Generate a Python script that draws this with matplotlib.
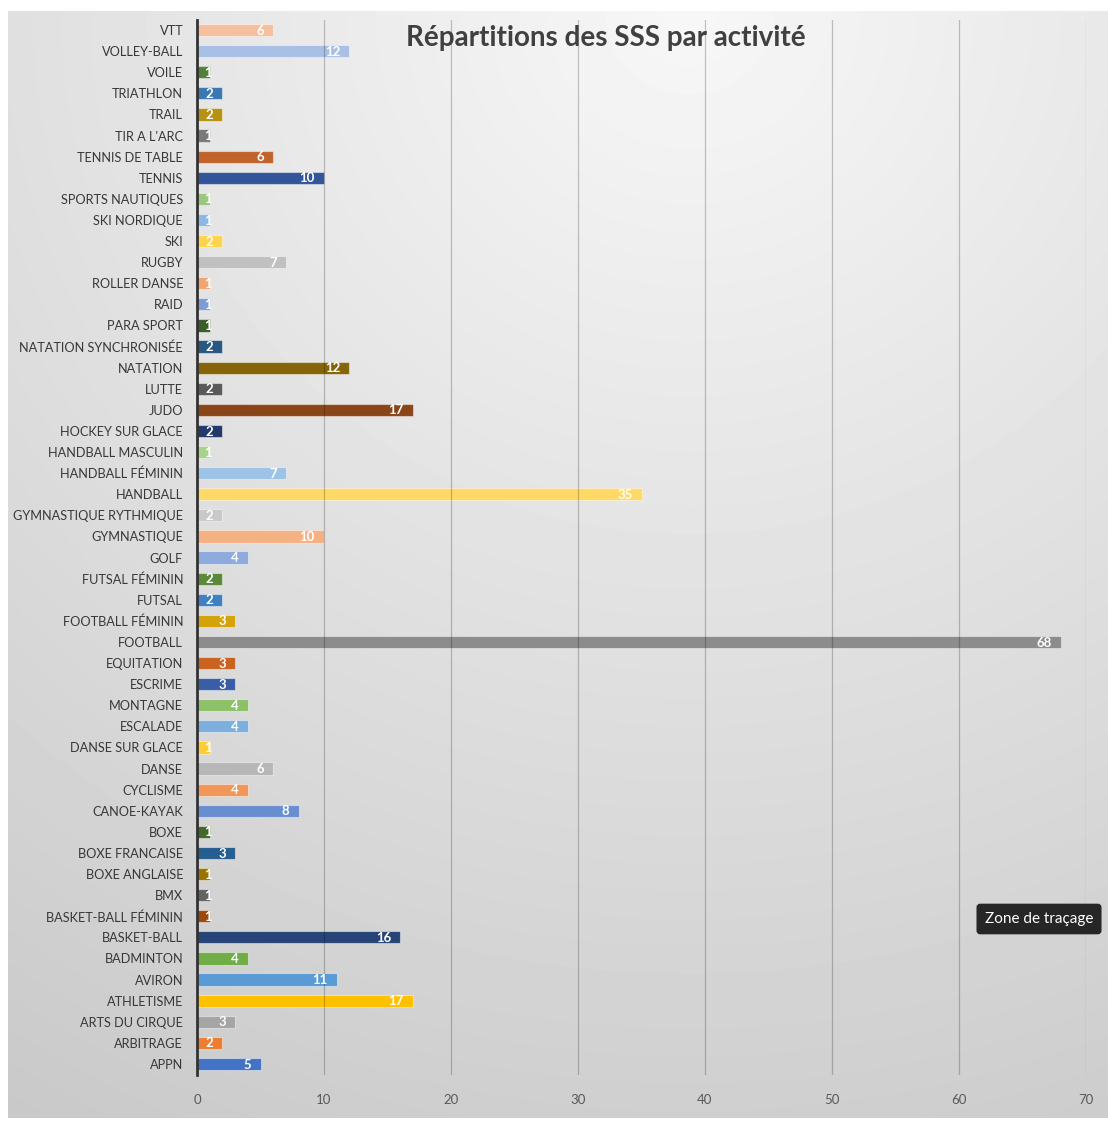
import numpy as np
import matplotlib
matplotlib.use("Agg")
import matplotlib.pyplot as plt

plt.rcParams['font.family'] = ['Lato', 'DejaVu Sans']

# Données (de bas en haut, comme dans le classeur)
activites = [
    "APPN", "ARBITRAGE", "ARTS DU CIRQUE", "ATHLETISME", "AVIRON", "BADMINTON",
    "BASKET-BALL", "BASKET-BALL FÉMININ", "BMX", "BOXE ANGLAISE", "BOXE FRANCAISE", "BOXE",
    "CANOE-KAYAK", "CYCLISME", "DANSE", "DANSE SUR GLACE", "ESCALADE", "MONTAGNE",
    "ESCRIME", "EQUITATION", "FOOTBALL", "FOOTBALL FÉMININ", "FUTSAL", "FUTSAL FÉMININ",
    "GOLF", "GYMNASTIQUE", "GYMNASTIQUE RYTHMIQUE", "HANDBALL", "HANDBALL FÉMININ", "HANDBALL MASCULIN",
    "HOCKEY SUR GLACE", "JUDO", "LUTTE", "NATATION", "NATATION SYNCHRONISÉE", "PARA SPORT",
    "RAID", "ROLLER DANSE", "RUGBY", "SKI", "SKI NORDIQUE", "SPORTS NAUTIQUES",
    "TENNIS", "TENNIS DE TABLE", "TIR A L'ARC", "TRAIL", "TRIATHLON", "VOILE",
    "VOLLEY-BALL", "VTT",
]
nb_sss = [
    5, 2, 3, 17, 11, 4,
    16, 1, 1, 1, 3, 1,
    8, 4, 6, 1, 4, 4,
    3, 3, 68, 3, 2, 2,
    4, 10, 2, 35, 7, 1,
    2, 17, 2, 12, 2, 1,
    1, 1, 7, 2, 1, 1,
    10, 6, 1, 2, 2, 1,
    12, 6,
]
graduations = [0, 10, 20, 30, 40, 50, 60, 70]

# Palette type Excel (6 couleurs d'accent, puis variantes)
couleurs = [
    "#4472C4", "#ED7D31", "#A5A5A5", "#FFC000", "#5B9BD5", "#70AD47",
    "#264478", "#9E480E", "#636363", "#997300", "#255E91", "#43682B",
    "#698ED0", "#F1975A", "#B7B7B7", "#FFCD33", "#7CAFDD", "#8CC168",
    "#3A5EA6", "#C9631F", "#8C8C8C", "#D4A20A", "#3F7FC2", "#5A8A39",
    "#8FAADC", "#F4B183", "#C9C9C9", "#FFD966", "#9DC3E6", "#A9D18E",
    "#22396A", "#8A4619", "#5A5A5A", "#86650A", "#285781", "#3B5E27",
    "#7C9CD6", "#F2A46F", "#C0C0C0", "#FFD34C", "#8CB9E2", "#9BC67E",
    "#34559A", "#C0642A", "#7A7A7A", "#B99112", "#3B78B2", "#52803A",
    "#A8BFE6", "#F6C0A0",
]

W, H = 1108, 1127
fig = plt.figure(figsize=(W / 100, H / 100), dpi=100)

# fond gris en dégradé (zone du graphique)
fond = fig.add_axes([0, 0, 1, 1], zorder=-5)
fond.set_xlim(0, W)
fond.set_ylim(H, 0)
fond.axis('off')
gx, gy = np.meshgrid(np.linspace(0, 1, 300), np.linspace(0, 1, 300))
d = np.clip(np.sqrt(((gx - 0.62) / 1.1) ** 2 + (gy / 1.05) ** 2), 0, 1.1)
niveau = (247 - 42 * d) / 255
fond.imshow(niveau, cmap='gray', vmin=0, vmax=1, extent=[8, W, 1118, 11],
            aspect='auto', interpolation='bilinear')

ax = fig.add_axes([197 / W, 1 - 1074.5 / H, (1086 - 197) / W, (1074.5 - 19.5) / H])
ax.patch.set_alpha(0)
y = np.arange(len(activites))
ax.barh(y, nb_sss, height=0.58, color=couleurs, edgecolor=(1, 1, 1, 0.45),
        linewidth=0.8, zorder=2)

px = 70 / (1086 - 197)   # une unité de pixel en valeur
for yi, v in zip(y, nb_sss):
    xt = max(v - 9 * px, 15 * px)
    ax.text(xt, yi - 0.03, str(v), ha='right', va='center', color='white',
            fontsize=9.5, fontweight='bold', zorder=4)

ax.set_xlim(0, 70)
ax.set_ylim(-0.5, len(activites) - 0.5)
ax.set_xticks(graduations)
ax.set_yticks(y)
ax.set_yticklabels(activites)
ax.tick_params(axis='both', length=0, labelsize=9.2)
ax.tick_params(axis='y', pad=10, labelcolor='#383838')
ax.tick_params(axis='x', pad=14, labelcolor='#595959', labelsize=9.5)
for s in ['top', 'right', 'bottom']:
    ax.spines[s].set_visible(False)
ax.spines['left'].set_color('#333333')
ax.spines['left'].set_linewidth(2)
ax.spines['left'].set_zorder(5)
for g in graduations[1:]:
    ax.axvline(g, color='black', alpha=0.22, linewidth=0.9, zorder=3)

fig.text(606 / W, 1 - 38 / H, "Répartitions des SSS par activité", ha='center', va='center',
         fontsize=20, fontweight='bold', color='#404040')

fig.text(1039 / W, 1 - 919 / H, "Zone de traçage", ha='center', va='center',
         fontsize=11, color='white',
         bbox=dict(boxstyle='round,pad=0.5,rounding_size=0.2', facecolor='#262626',
                   edgecolor='#262626'))

fig.savefig('out.png', dpi=100)
